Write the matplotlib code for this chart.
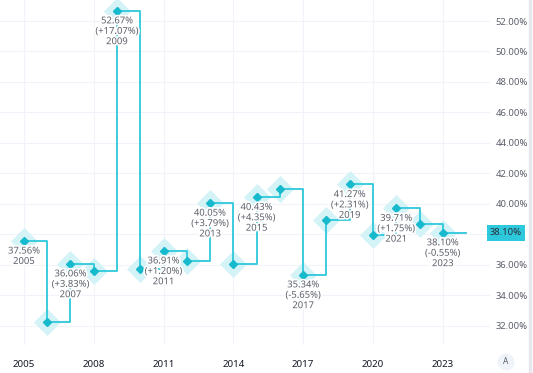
import matplotlib
matplotlib.use("Agg")
import matplotlib.pyplot as plt
import matplotlib.transforms as mtransforms
import matplotlib.patheffects as pe
from matplotlib.patches import Ellipse

years = [2005, 2006, 2007, 2008, 2009, 2010, 2011, 2012, 2013, 2014,
         2015, 2016, 2017, 2018, 2019, 2020, 2021, 2022, 2023]
values = [37.56, 32.23, 36.06, 35.60, 52.67, 35.71, 36.91, 36.26, 40.05, 36.08,
          40.43, 40.99, 35.34, 38.96, 41.27, 37.96, 39.71, 38.65, 38.10]
label_years = [2005, 2007, 2009, 2011, 2013, 2015, 2017, 2019, 2021, 2023]
label_changes = ["", "(+3.83%)", "(+17.07%)", "(+1.20%)", "(+3.79%)", "(+4.35%)",
                 "(-5.65%)", "(+2.31%)", "(+1.75%)", "(-0.55%)"]
xticks = [2005, 2008, 2011, 2014, 2017, 2020, 2023]
yticks = [32, 34, 36, 38, 40, 42, 44, 46, 48, 50, 52]

line_color = "#2ec8dc"
marker_color = "#17b9cd"
halo_color = "#d3f3f7"
text_color = "#5d606b"

plt.rcParams["font.family"] = ["Noto Sans", "DejaVu Sans"]

fig = plt.figure(figsize=(5.33, 3.73), dpi=100)
ax = fig.add_axes([0, 0.075, 490 / 533, 0.925])

# step line, last value carried one year forward
ax.plot(years + [2024], values + [values[-1]], drawstyle="steps-post",
        color=line_color, lw=1.3, zorder=3)
ax.plot(years, values, ls="none", marker="D", ms=11, color=halo_color,
        mec=halo_color, mew=2.5, zorder=2)
ax.plot(years, values, ls="none", marker="D", ms=4.2, color=marker_color,
        mec=marker_color, zorder=4)

for i, y in enumerate(label_years):
    v = values[years.index(y)]
    lines = ["%.2f%%" % v]
    if label_changes[i]:
        lines.append(label_changes[i])
    lines.append(str(y))
    ax.annotate("\n".join(lines), (y, v), xytext=(0, -4), textcoords="offset points",
                ha="center", va="top", fontsize=6.8, color=text_color,
                linespacing=1.2, zorder=5,
                path_effects=[pe.withStroke(linewidth=2.5, foreground="white")])

ax.set_xlim(2003.97, 2025.03)
ax.set_ylim(30.73, 53.38)
ax.set_xticks(xticks)
ax.set_xticklabels([str(x) for x in xticks], fontsize=7, fontweight="bold",
                   color="#131722")
ax.set_yticks(yticks)
# 38.00% is hidden behind the last value tag
ax.set_yticklabels(["" if t == 38 else "%.2f%%" % t for t in yticks],
                   fontsize=6.8, color=text_color)
ax.yaxis.tick_right()
ax.tick_params(axis="both", length=0)
ax.tick_params(axis="x", pad=11)
ax.tick_params(axis="y", pad=4)
ax.grid(True, color="#f0f3fa", lw=0.8)
ax.set_axisbelow(True)
for s in ax.spines.values():
    s.set_visible(False)

# last value tag on the price scale
trans = mtransforms.blended_transform_factory(ax.transAxes, ax.transData)
ax.text(1.0, values[-1], "%.2f%%" % values[-1], transform=trans, ha="left",
        va="center", fontsize=6.8, color="#2a2e39", clip_on=False,
        bbox=dict(boxstyle="square,pad=0.35", fc=line_color, ec="none"))

# right border and auto-scale button
fig.add_artist(plt.Line2D([530 / 533, 530 / 533], [0, 1], color="#e6e8ee", lw=2.5,
                          transform=fig.transFigure))
fig.add_artist(Ellipse((506 / 533, 11 / 373), 17 / 533, 17 / 373,
                       transform=fig.transFigure, fc="#f0f3fa", ec="none"))
fig.text(506 / 533, 11 / 373, "A", ha="center", va="center", fontsize=6,
         color="#5d606b")

fig.savefig("out.png", dpi=100)
